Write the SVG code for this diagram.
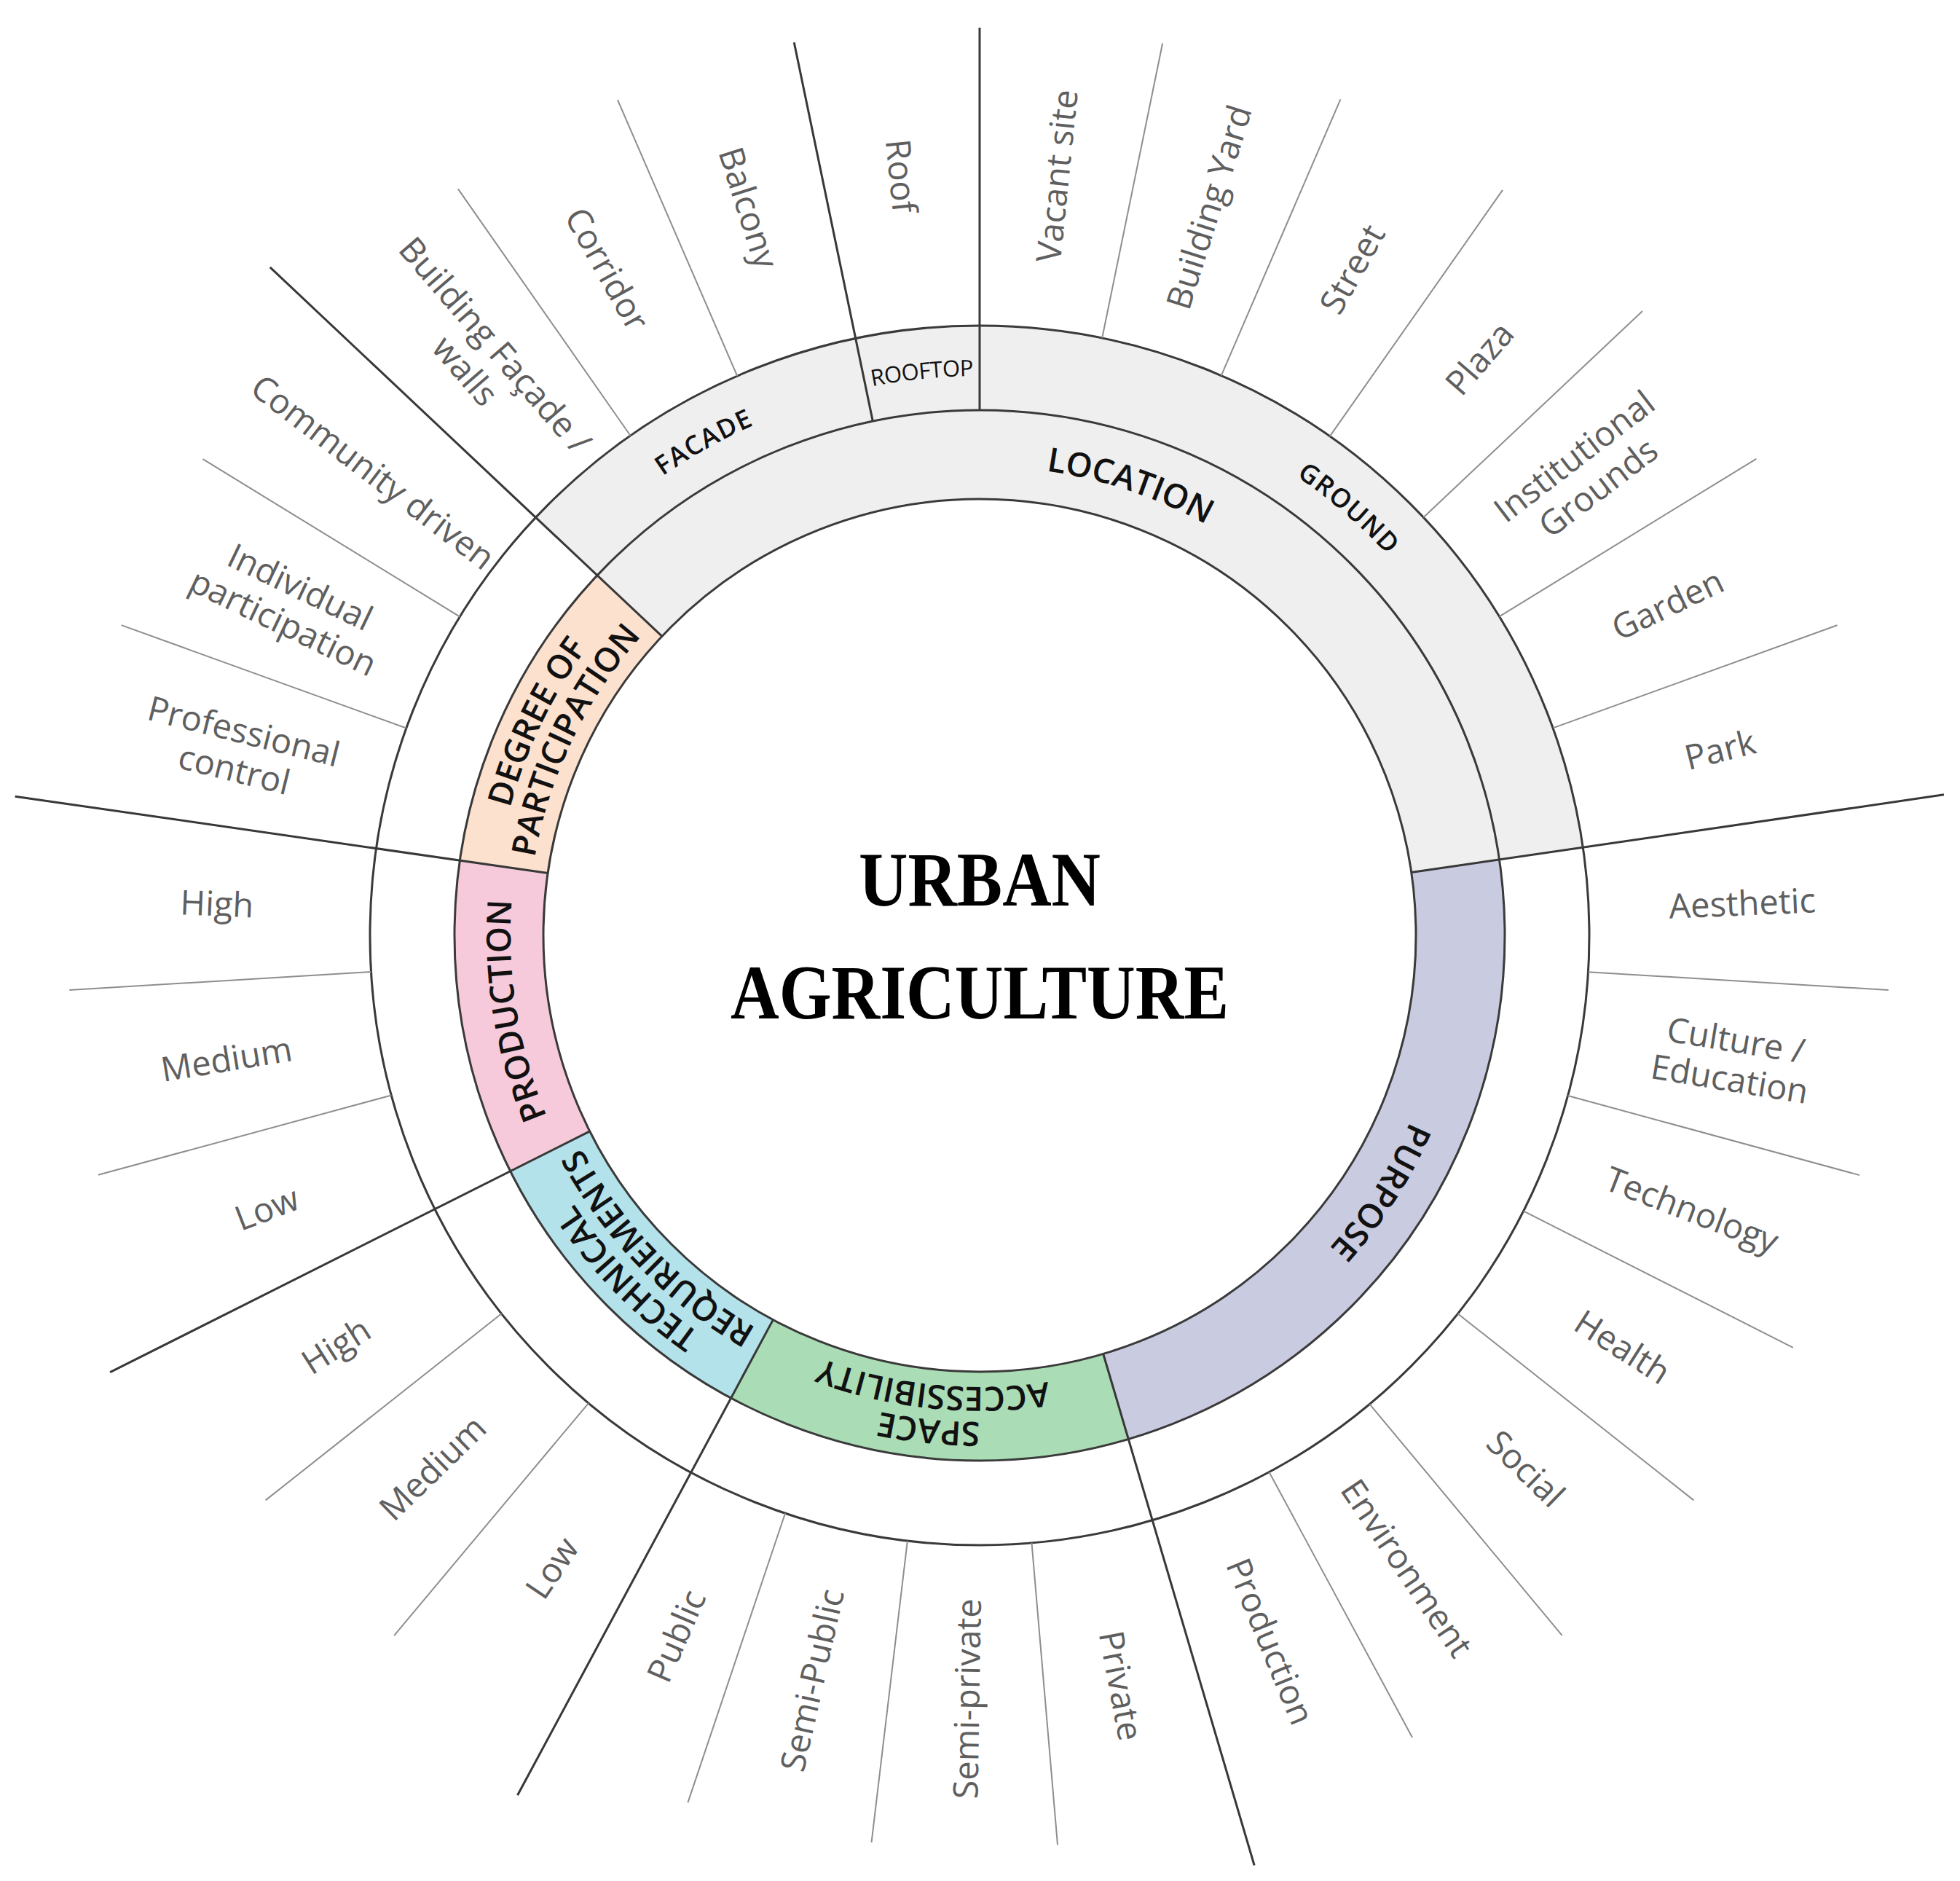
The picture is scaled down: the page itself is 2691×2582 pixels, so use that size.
<svg xmlns="http://www.w3.org/2000/svg" width="2691" height="2582" viewBox="0 0 2691 2582">
<style>
.ring{fill:none;stroke:#3a3a3a;stroke-width:3}
.seg{fill:none;stroke-width:122}
.oseg{fill:none;stroke-width:116}
.thick{stroke:#383838;stroke-width:3;fill:none}
.thin{stroke:#8e8e8e;stroke-width:2;fill:none}
.lbl{font-family:"Open Sans","Noto Sans","DejaVu Sans",sans-serif;font-size:47px;fill:#5f5f5f;text-anchor:middle}
.cat{font-family:"Open Sans","Noto Sans","DejaVu Sans",sans-serif;font-weight:600;font-size:46px;fill:#111;text-anchor:middle}
.sub{font-size:36px;letter-spacing:1.5px}
.roof{font-size:31px;font-weight:400;letter-spacing:-0.5px}
.title{font-family:"Liberation Serif","Times New Roman",serif;font-weight:bold;font-size:106px;fill:#000;text-anchor:middle}
</style>
<defs>
<path id="r620" d="M620 0A620 620 0 1 1 -620 0A620 620 0 1 1 620 0"/>
<path id="r644" d="M644 0A644 644 0 1 1 -644 0A644 644 0 1 1 644 0"/>
<path id="r668" d="M668 0A668 668 0 1 1 -668 0A668 668 0 1 1 668 0"/>
<path id="r766" d="M766 0A766 766 0 1 1 -766 0A766 766 0 1 1 766 0"/>
<path id="r768" d="M768 0A768 768 0 1 1 -768 0A768 768 0 1 1 768 0"/>
</defs>
<rect width="2691" height="2582" fill="#fff"/>
<g transform="translate(1345 1284)">
  <g id="location">
    <circle class="seg" r="660" stroke="#efefef" stroke-dasharray="1479.4 9000" transform="rotate(223.27)"/>
    <g transform="rotate(108.5)"><text class="cat"><textPath href="#r644" startOffset="50%">LOCATION</textPath></text></g>
  </g>
  <g id="facade">
    <circle class="oseg" r="779" stroke="#efefef" stroke-dasharray="475.7 9000" transform="rotate(223.27)"/>
    <g transform="rotate(60.8)"><text class="cat sub"><textPath href="#r766" startOffset="50%">FACADE</textPath></text></g>
  </g>
  <g id="rooftop">
    <circle class="oseg" r="779" stroke="#efefef" stroke-dasharray="159.6 9000" transform="rotate(258.26)"/>
    <g transform="rotate(84.13)"><text class="cat roof"><textPath href="#r768" startOffset="50%">ROOFTOP</textPath></text></g>
  </g>
  <g id="ground">
    <circle class="oseg" r="779" stroke="#efefef" stroke-dasharray="1110.8 9000" transform="rotate(270)"/>
    <g transform="rotate(130.85)"><text class="cat sub"><textPath href="#r766" startOffset="50%">GROUND</textPath></text></g>
  </g>
  <g id="purpose">
    <circle class="seg" r="660" stroke="#c9cbe1" stroke-dasharray="942.7 9000" transform="rotate(-8.3)"/>
    <g transform="rotate(-147.4)"><text class="cat"><textPath href="#r644" startOffset="50%">PURPOSE</textPath></text></g>
  </g>
  <g id="space-accessibility">
    <circle class="seg" r="660" stroke="#aadcb5" stroke-dasharray="515.1 9000" transform="rotate(73.54)"/>
    <g transform="rotate(-84.1)">
      <text class="cat"><textPath href="#r668" startOffset="50%">SPACE</textPath></text>
      <text class="cat"><textPath href="#r620" startOffset="50%">ACCESSIBILITY</textPath></text>
    </g>
  </g>
  <g id="technical-requirements">
    <circle class="seg" r="660" stroke="#b3e2ea" stroke-dasharray="404.0 9000" transform="rotate(118.26)"/>
    <g transform="rotate(-44.2)">
      <text class="cat"><textPath href="#r668" startOffset="50%">TECHNICAL</textPath></text>
      <text class="cat"><textPath href="#r620" startOffset="50%">REQURIEMENTS</textPath></text>
    </g>
  </g>
  <g id="production">
    <circle class="seg" r="660" stroke="#f7cadb" stroke-dasharray="401.7 9000" transform="rotate(153.33)"/>
    <g transform="rotate(-9.2)"><text class="cat"><textPath href="#r644" startOffset="50%">PRODUCTION</textPath></text></g>
  </g>
  <g id="degree-of-participation">
    <circle class="seg" r="660" stroke="#fde1cf" stroke-dasharray="404.0 9000" transform="rotate(188.2)"/>
    <g transform="rotate(25.7)">
      <text class="cat"><textPath href="#r668" startOffset="50%">DEGREE OF</textPath></text>
      <text class="cat"><textPath href="#r620" startOffset="50%">PARTICIPATION</textPath></text>
    </g>
  </g>
  <g id="rings">
    <circle class="ring" r="599"/>
    <circle class="ring" r="721"/>
    <circle class="ring" r="837"/>
  </g>
  <g id="connectors">
    <line class="thick" x1="599" x2="1338" transform="rotate(223.27)"/>
    <line class="thick" x1="599" x2="1338" transform="rotate(-8.3)"/>
    <line class="thick" x1="599" x2="1331" transform="rotate(73.54)"/>
    <line class="thick" x1="599" x2="1340" transform="rotate(118.26)"/>
    <line class="thick" x1="599" x2="1336" transform="rotate(153.33)"/>
    <line class="thick" x1="599" x2="1338" transform="rotate(188.2)"/>
    <line class="thick" x1="721" x2="1252" transform="rotate(258.26)"/>
    <line class="thick" x1="721" x2="1246" transform="rotate(270)"/>
    <line class="thin" x1="837" x2="1250" transform="rotate(235.05)"/>
    <line class="thin" x1="837" x2="1250" transform="rotate(246.57)"/>
    <line class="thin" x1="837" x2="1250" transform="rotate(281.59)"/>
    <line class="thin" x1="837" x2="1250" transform="rotate(293.35)"/>
    <line class="thin" x1="837" x2="1250" transform="rotate(305.06)"/>
    <line class="thin" x1="837" x2="1250" transform="rotate(316.72)"/>
    <line class="thin" x1="837" x2="1251" transform="rotate(328.47)"/>
    <line class="thin" x1="837" x2="1252" transform="rotate(340.12)"/>
    <line class="thin" x1="837" x2="1250" transform="rotate(3.44)"/>
    <line class="thin" x1="837" x2="1252" transform="rotate(15.24)"/>
    <line class="thin" x1="837" x2="1252" transform="rotate(26.87)"/>
    <line class="thin" x1="837" x2="1250" transform="rotate(38.34)"/>
    <line class="thin" x1="837" x2="1250" transform="rotate(50.23)"/>
    <line class="thin" x1="837" x2="1251" transform="rotate(61.65)"/>
    <line class="thin" x1="837" x2="1253" transform="rotate(85.1)"/>
    <line class="thin" x1="837" x2="1254" transform="rotate(96.8)"/>
    <line class="thin" x1="837" x2="1256" transform="rotate(108.6)"/>
    <line class="thin" x1="837" x2="1253" transform="rotate(129.91)"/>
    <line class="thin" x1="837" x2="1250" transform="rotate(141.66)"/>
    <line class="thin" x1="837" x2="1254" transform="rotate(164.8)"/>
    <line class="thin" x1="837" x2="1252" transform="rotate(176.57)"/>
    <line class="thin" x1="837" x2="1253" transform="rotate(199.87)"/>
    <line class="thin" x1="837" x2="1251" transform="rotate(211.51)"/>
  </g>
  <g id="labels">
    <g id="l-vacant-site" transform="rotate(275.8) translate(1048 0)"><text class="lbl" y="17">Vacant site</text></g>
    <g id="l-building-yard" transform="rotate(287.47) translate(1048 0)"><text class="lbl" y="17">Building Yard</text></g>
    <g id="l-street" transform="rotate(299.2) translate(1048 0)"><text class="lbl" y="17">Street</text></g>
    <g id="l-plaza" transform="rotate(310.89) translate(1048 0)"><text class="lbl" y="17">Plaza</text></g>
    <g id="l-institutional" transform="rotate(322.6) translate(1048 0)"><text class="lbl"><tspan x="0" y="-10">Institutional</tspan><tspan x="0" y="44">Grounds</tspan></text></g>
    <g id="l-garden" transform="rotate(334.3) translate(1048 0)"><text class="lbl" y="17">Garden</text></g>
    <g id="l-park" transform="rotate(345.9) translate(1048 0)"><text class="lbl" y="17">Park</text></g>
    <g id="l-aesthetic" transform="rotate(-2.43) translate(1048 0)"><text class="lbl" y="17">Aesthetic</text></g>
    <g id="l-culture" transform="rotate(9.34) translate(1048 0)"><text class="lbl"><tspan x="0" y="-10">Culture /</tspan><tspan x="0" y="44">Education</tspan></text></g>
    <g id="l-technology" transform="rotate(21.06) translate(1048 0)"><text class="lbl" y="17">Technology</text></g>
    <g id="l-health" transform="rotate(32.6) translate(1048 0)"><text class="lbl" y="17">Health</text></g>
    <g id="l-social" transform="rotate(44.29) translate(1048 0)"><text class="lbl" y="17">Social</text></g>
    <g id="l-environment" transform="rotate(55.94) translate(1048 0)"><text class="lbl" y="17">Environment</text></g>
    <g id="l-production" transform="rotate(67.6) translate(1048 0)"><text class="lbl" y="17">Production</text></g>
    <g id="l-private" transform="rotate(79.32) translate(1048 0)"><text class="lbl" y="17">Private</text></g>
    <g id="l-semi-private" transform="rotate(90.95) translate(1048 0) rotate(180)"><text class="lbl" y="17">Semi-private</text></g>
    <g id="l-semi-public" transform="rotate(102.7) translate(1048 0) rotate(180)"><text class="lbl" y="17">Semi-Public</text></g>
    <g id="l-public" transform="rotate(113.43) translate(1048 0) rotate(180)"><text class="lbl" y="17">Public</text></g>
    <g id="l-tech-low" transform="rotate(124.09) translate(1048 0) rotate(180)"><text class="lbl" y="17">Low</text></g>
    <g id="l-tech-medium" transform="rotate(135.79) translate(1048 0) rotate(180)"><text class="lbl" y="17">Medium</text></g>
    <g id="l-tech-high" transform="rotate(147.5) translate(1048 0) rotate(180)"><text class="lbl" y="17">High</text></g>
    <g id="l-prod-low" transform="rotate(159.07) translate(1048 0) rotate(180)"><text class="lbl" y="17">Low</text></g>
    <g id="l-prod-medium" transform="rotate(170.69) translate(1048 0) rotate(180)"><text class="lbl" y="17">Medium</text></g>
    <g id="l-prod-high" transform="rotate(182.39) translate(1048 0) rotate(180)"><text class="lbl" y="17">High</text></g>
    <g id="l-professional" transform="rotate(194.04) translate(1048 0) rotate(180)"><text class="lbl"><tspan x="0" y="-10">Professional</tspan><tspan x="0" y="44">control</tspan></text></g>
    <g id="l-individual" transform="rotate(205.69) translate(1048 0) rotate(180)"><text class="lbl"><tspan x="0" y="-10">Individual</tspan><tspan x="0" y="44">participation</tspan></text></g>
    <g id="l-community" transform="rotate(217.39) translate(1048 0) rotate(180)"><text class="lbl" y="17">Community driven</text></g>
    <g id="l-facade-walls" transform="rotate(229.16) translate(1048 0) rotate(180)"><text class="lbl"><tspan x="0" y="-10">Building Façade /</tspan><tspan x="0" y="44">walls</tspan></text></g>
    <g id="l-corridor" transform="rotate(240.81) translate(1048 0) rotate(180)"><text class="lbl" y="17">Corridor</text></g>
    <g id="l-balcony" transform="rotate(252.4) translate(1048 0) rotate(180)"><text class="lbl" y="17">Balcony</text></g>
    <g id="l-roof" transform="rotate(264.13) translate(1048 0) rotate(180)"><text class="lbl" y="17">Roof</text></g>
  </g>
  <g id="title">
    <text class="title" x="0" y="-41" textLength="332" lengthAdjust="spacingAndGlyphs">URBAN</text>
    <text class="title" x="0" y="114" textLength="684" lengthAdjust="spacingAndGlyphs">AGRICULTURE</text>
  </g>
</g>
</svg>
